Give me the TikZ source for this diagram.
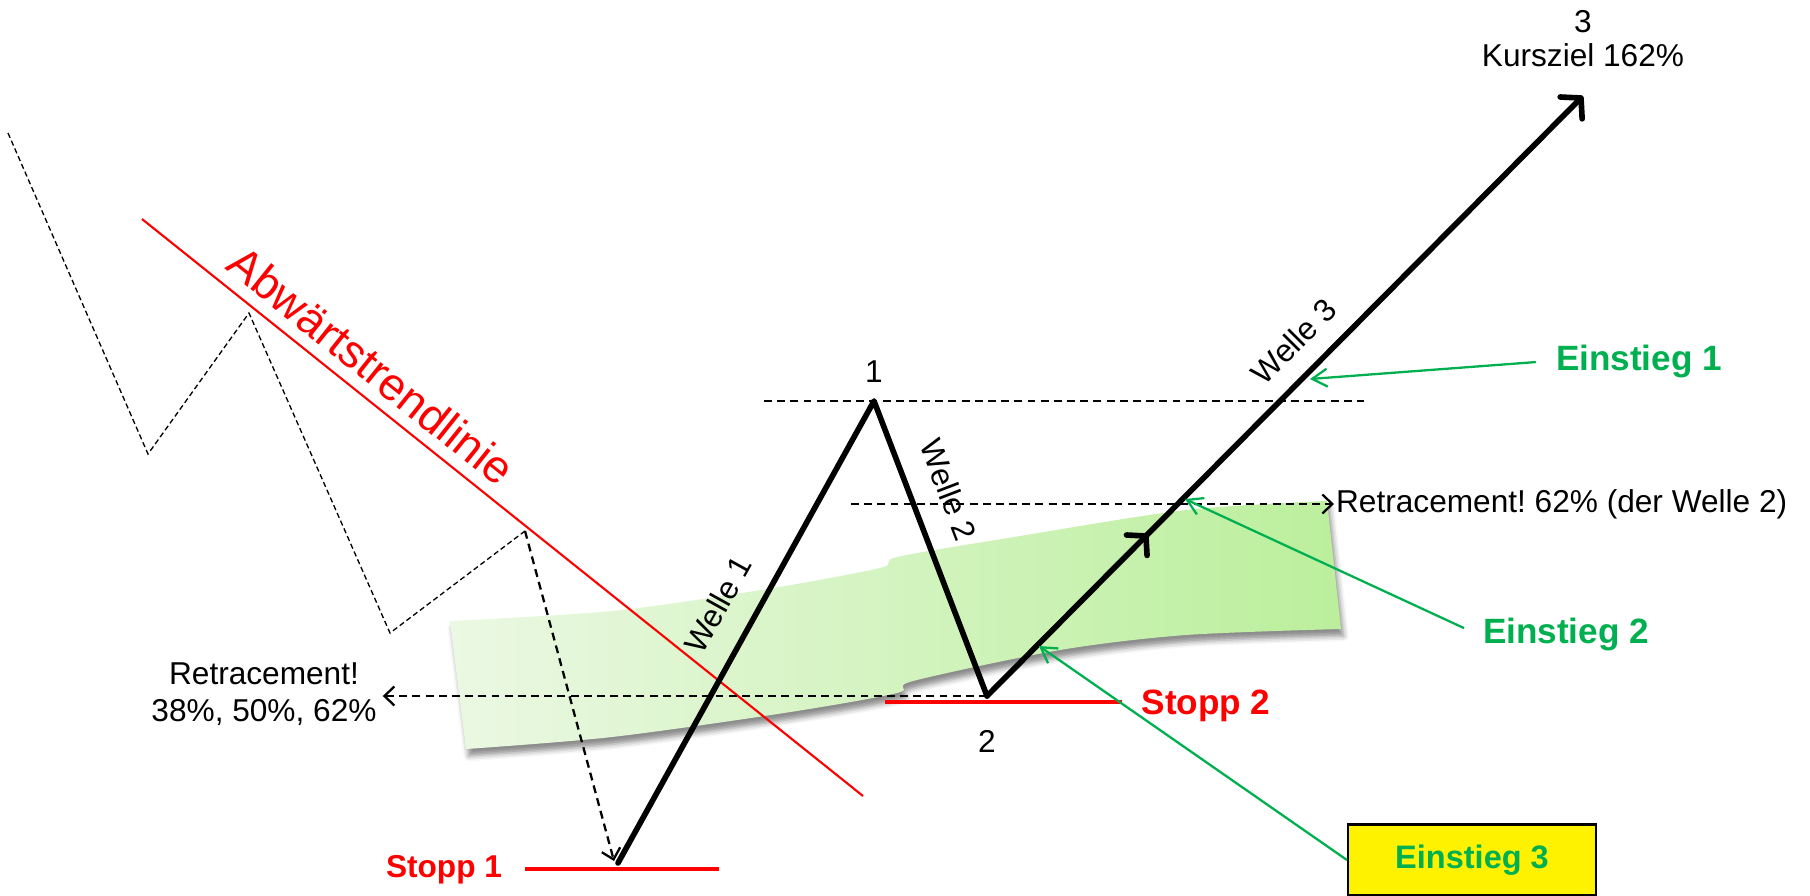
\documentclass[tikz,border=0pt]{standalone}
\usepackage{fontspec}
\setmainfont{Liberation Sans}
\usepackage{tikz}
\usetikzlibrary{positioning, arrows.meta, decorations.markings, shadows.blur}

\definecolor{entrygreen}{HTML}{00B050}
\definecolor{bandlight}{HTML}{EBF8E3}
\definecolor{banddark}{HTML}{BBEF9C}

\frenchspacing

\begin{document}
\begin{tikzpicture}[
  x=0.02cm, y=-0.02cm,
  font=\fontsize{18}{21}\selectfont,
  wave/.style={line width=3.2pt, line join=round, line cap=round},
  guide/.style={line width=1.3pt, dash pattern=on 4.5pt off 3pt},
  oldpath/.style={line width=0.75pt, dash pattern=on 3pt off 1.8pt},
  trend/.style={red, line width=1.2pt},
  stopline/.style={red, line width=2.6pt},
  stoplabel/.style={text=red, font=\bfseries\fontsize{20}{24}\selectfont},
  entry/.style={text=entrygreen, font=\bfseries\fontsize{20}{24}\selectfont},
  entrybox/.style={draw, line width=1.2pt, fill=yellow, minimum width=4.96cm,
    minimum height=1.42cm, text=entrygreen, font=\bfseries\fontsize{18.5}{22}\selectfont},
  pointer/.style={entrygreen, line width=1.3pt, -{Straight Barb[length=0.3cm, width=0.36cm]}},
  tip/.style={-{Straight Barb[length=0.2cm, width=0.38cm]}},
  bigtip/.style={-{Straight Barb[round, length=0.28cm, width=0.62cm]}},
  midarrow/.style={decoration={markings, mark=at position 0.27 with
    {\arrow{Straight Barb[round, length=0.26cm, width=0.58cm]}}}, postaction={decorate}},
]
  \useasboundingbox (0,0) rectangle (1810,896);

  % Retracement zone (green band)
  \shade[left color=bandlight, right color=banddark,
    blur shadow={shadow xshift=1.5pt, shadow yshift=-4pt, shadow blur radius=3pt, shadow opacity=45}]
    plot[smooth] coordinates {(450,621) (612,611) (761,590) (880,568) (897,557) (1014,537) (1186,510) (1327,501)}
    -- plot[smooth] coordinates {(1341,629) (1186,635) (1060,650) (913,681) (897,693) (784,713) (612,737) (466,749)}
    -- cycle;

  % Wave points
  \coordinate (w0) at (618,863);
  \coordinate (w1) at (874,401);
  \coordinate (w2) at (987,696);
  \coordinate (w3) at (1583,96);

  % Old downtrend (dashed zigzag)
  \coordinate (z0) at (8,133);
  \coordinate (z1) at (148,454);
  \coordinate (z2) at (249,313);
  \coordinate (z3) at (390,633);
  \coordinate (z4) at (525,531);
  \coordinate (z5) at (614,861);
  \draw[oldpath] (z0) -- (z1) -- (z2) -- (z3) -- (z4);
  \draw[guide, tip] (z4) -- (z5);

  % Trend line
  \coordinate (t0) at (142,219);
  \coordinate (t1) at (863,796);
  \draw[trend] (t0) -- (t1)
    node[pos=0.293, sloped, above=3pt, text=red, font=\fontsize{26}{30}\selectfont]{Abwärtstrendlinie};

  % Level lines
  \coordinate (h1a) at (764,401);
  \coordinate (h1b) at (1364,401);
  \draw[guide] (h1a) -- (h1b);

  \node[anchor=west, inner sep=1pt] (ret62) at (1334,504) {Retracement! 62\% (der Welle 2)};
  \coordinate (h2a) at (851,504);
  \draw[guide, tip] (h2a) -- (ret62.west);

  \node[align=center] (ret38) at (264,694) {Retracement!\\38\%, 50\%, 62\%};
  \draw[guide, tip] (w2) -- (ret38.east |- w2);

  % Stops
  \coordinate (s1a) at (525,869);
  \coordinate (s1b) at (719,869);
  \draw[stopline] (s1a) -- (s1b);
  \node[stoplabel, font=\bfseries\fontsize{18}{22}\selectfont] (stop1) at (444,870) {Stopp 1};
  \coordinate (s2a) at (885,702);
  \coordinate (s2b) at (1122,702);
  \draw[stopline] (s2a) -- (s2b);
  \node[stoplabel] (stop2) at (1206,706) {Stopp 2};

  % Waves
  \draw[wave] (w0) -- (w1) node[pos=0.52, sloped, above=10pt]{Welle 1}
    -- (w2) node[pos=0.347, sloped, above=10pt]{Welle 2};
  \draw[wave, bigtip, midarrow] (w2) -- (w3) node[pos=0.553, sloped, above=7pt]{Welle 3};

  \node[above=7pt of w1] (lab1) {1};
  \node[below=16pt of w2] (lab2) {2};
  \node[above=13pt of w3, align=center, font=\fontsize{18}{19.5}\selectfont] (target) {3\\Kursziel 162\%};

  % Entries
  \node[entry] (e1) at (1639,361) {Einstieg 1};
  \coordinate (in1) at (1310,379);
  \draw[pointer, shorten <=8pt] (e1.west) -- (in1);

  \node[entry] (e2) at (1566,634) {Einstieg 2};
  \coordinate (in2) at (1185,499);
  \draw[pointer, shorten <=8pt] (e2.west) -- (in2);

  \node[entrybox] (e3) at (1472,860) {Einstieg 3};
  \coordinate (in3) at (1039,646);
  \draw[pointer] (e3.west) -- (in3);
\end{tikzpicture}
\end{document}
